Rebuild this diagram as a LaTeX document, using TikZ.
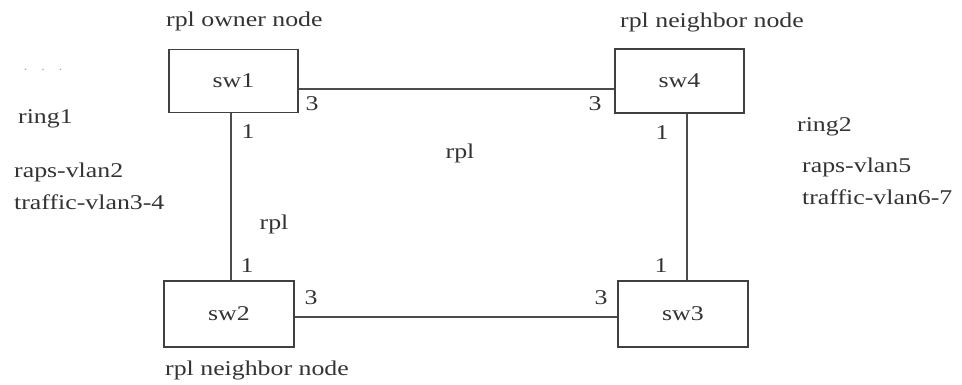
\documentclass[tikz,border=0pt]{standalone}
\usepackage{fontspec}
\usepackage{graphicx}
\setmainfont{Liberation Serif}
\newcommand{\widetxt}[1]{\scalebox{1.23}[1]{#1}}
\begin{document}
\begin{tikzpicture}[x=1pt,y=-1pt,
  sw/.style={draw=black!75,line width=1.6pt,minimum width=129pt,inner sep=0pt,font=\fontsize{21}{24}\selectfont,text=black!80},
  lnk/.style={draw=black!70,line width=1.5pt},
  lbl/.style={font=\fontsize{21}{24}\selectfont,text=black!80,inner sep=0pt},
  side/.style={lbl,anchor=west}]
\useasboundingbox (0,0) rectangle (962,385);
\node[sw,minimum height=63pt] (sw1) at (233.5,81) {\widetxt{sw1}};
\node[sw,minimum height=64pt] (sw4) at (679.5,81) {\widetxt{sw4}};
\node[sw,minimum height=66pt,minimum width=130pt] (sw2) at (229,314) {\widetxt{sw2}};
\node[sw,minimum height=66pt,minimum width=130pt] (sw3) at (683,314) {\widetxt{sw3}};
\coordinate (h1) at (0,89);
\coordinate (h2) at (0,317);
\coordinate (v1) at (231,0);
\coordinate (v2) at (687,0);
\draw[lnk] (sw1.east |- h1) -- (sw4.west |- h1);
\draw[lnk] (sw2.east |- h2) -- (sw3.west |- h2);
\draw[lnk] (sw1.south -| v1) -- (sw2.north -| v1);
\draw[lnk] (sw4.south -| v2) -- (sw3.north -| v2);
% port labels
\node[lbl] (p13) at (312,104) {\widetxt{3}};
\node[lbl] (p11) at (248,132) {\widetxt{1}};
\node[lbl] (p43) at (595,104) {\widetxt{3}};
\node[lbl] (p41) at (662,133) {\widetxt{1}};
\node[lbl] (p21) at (247,266) {\widetxt{1}};
\node[lbl] (p23) at (311,298) {\widetxt{3}};
\node[lbl] (p33) at (601,298) {\widetxt{3}};
\node[lbl] (p31) at (661,266) {\widetxt{1}};
% rpl labels
\node[lbl] (rplh) at (460,153) {\widetxt{rpl}};
\node[lbl] (rplv) at (274,224) {\widetxt{rpl}};
% role labels
\node[lbl,anchor=west] (own) at (166,21) {\widetxt{rpl owner node}};
\node[lbl,anchor=west] (nb4) at (620,22) {\widetxt{rpl neighbor node}};
\node[lbl,anchor=west] (nb2) at (165,370) {\widetxt{rpl neighbor node}};
% ring info
\node[lbl,text=black!35,font=\fontsize{14}{16}\selectfont] (dots) at (43,70) {.\hspace{14pt}.\hspace{14pt}.};
\node[side] (r1) at (18,119) {\widetxt{ring1}};
\node[side] (r1a) at (14,172) {\widetxt{raps-vlan2}};
\node[side] (r1b) at (14,202) {\widetxt{traffic-vlan3-4}};
\node[side] (r2) at (797,127) {\widetxt{ring2}};
\node[side] (r2a) at (802,167) {\widetxt{raps-vlan5}};
\node[side] (r2b) at (802,197) {\widetxt{traffic-vlan6-7}};
\end{tikzpicture}
\end{document}
